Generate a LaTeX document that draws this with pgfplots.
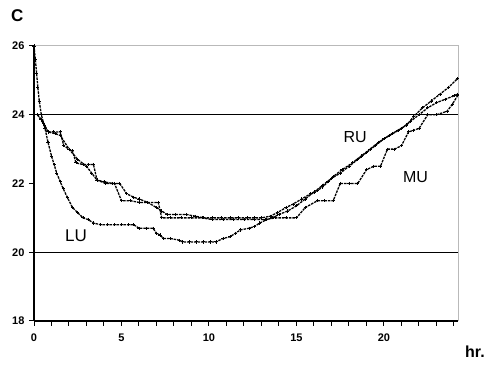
\documentclass[border=0pt]{standalone}
\usepackage{pgfplots}
\pgfplotsset{compat=1.18}
\usepackage{fontspec}
\setmainfont{Liberation Sans}
\begin{document}
\begin{tikzpicture}[x=1pt,y=1pt]
\path[use as bounding box] (0,0) rectangle (489,366);
\node[anchor=base west,inner sep=0pt,font=\bfseries\fontsize{17}{17}\selectfont] at (11,344) {C};
\node[anchor=base west,inner sep=0pt,font=\bfseries\fontsize{16}{16}\selectfont] at (465,8) {hr.};
\begin{axis}[
  at={(34pt,45pt)}, anchor=south west,
  scale only axis, width=424pt, height=275pt,
  xmin=0, xmax=24.23, ymin=18, ymax=26,
  axis x line*=bottom, axis y line*=left,
  axis line style={black, line width=1.2pt, -},
  xtick={0,5,10,15,20}, minor xtick={1,2,3,4,6,7,8,9,11,12,13,14,16,17,18,19,21,22,23,24},
  ytick={18,20,22,24,26},
  xtick align=outside, ytick align=outside,
  tick style={black, line width=1pt},
  major tick length=5pt, minor tick length=5pt,
  tick label style={font=\bfseries\fontsize{11}{11}\selectfont},
  /pgf/number format/assume math mode=true,
  xticklabel style={yshift=-4pt},
  yticklabel style={xshift=-1pt},
  clip=false,
]
% frame top/right
\addplot[gray!55, line width=1pt, forget plot] coordinates {(0,26) (24.23,26) (24.23,18)};
% reference lines
\addplot[black, line width=1pt, forget plot] coordinates {(0,24) (24.23,24)};
\addplot[black, line width=1pt, forget plot] coordinates {(0,20) (24.23,20)};
% LU
\addplot[black, line width=1.3pt, mark=+, mark size=1.6pt, mark options={solid, line width=0.9pt}, dash pattern=on 2.5pt off 1pt] coordinates {
(0,26) (0.08,25.6) (0.15,25.2) (0.22,24.8) (0.3,24.4) (0.42,24.0) (0.55,23.75) (0.63,23.6) (0.8,23.2) (1.0,22.8) (1.15,22.55) (1.3,22.3)
(1.5,22.05) (1.67,21.85) (1.9,21.6) (2.2,21.3) (2.5,21.15) (2.8,21.0) (3.1,20.95) (3.4,20.85) (3.8,20.8)
(4.2,20.8) (4.6,20.8) (5.0,20.8) (5.4,20.8) (5.7,20.8) (6.0,20.7) (6.4,20.7) (6.8,20.7) (7.0,20.55) (7.2,20.5) (7.4,20.4)
(7.8,20.4) (8.3,20.35) (8.5,20.3) (8.9,20.3) (9.3,20.3) (9.7,20.3) (10.1,20.3) (10.4,20.3) (10.8,20.4) (11.2,20.45)
(11.5,20.55) (11.8,20.65) (12.3,20.7) (12.6,20.75) (12.9,20.85) (13.3,20.95) (13.6,21.0) (14.0,21.1) (14.5,21.2) (15.0,21.35)
(15.5,21.55) (16.0,21.75) (16.5,21.95) (17.0,22.15) (17.5,22.3) (18.0,22.5) (18.5,22.7) (19.0,22.9) (19.5,23.1) (20.0,23.3)
(20.5,23.45) (21.0,23.6) (21.5,23.8) (22.0,24.0) (22.5,24.2) (23.0,24.35) (23.5,24.45) (24.0,24.55) (24.2,24.6)};
% RU
\addplot[black, line width=1.3pt, mark=+, mark size=1.6pt, mark options={solid, line width=0.9pt}, dash pattern=on 2.5pt off 1pt] coordinates {
(0.2,24.0) (0.5,23.8) (0.8,23.5) (1.1,23.5) (1.5,23.5) (1.7,23.1) (2.0,23.0) (2.2,22.95) (2.4,22.6) (2.8,22.55) (3.1,22.55) (3.4,22.55)
(3.6,22.1) (4.0,22.05) (4.5,22.0) (4.9,22.0) (5.3,21.7) (5.7,21.6) (6.0,21.55) (6.5,21.45) (7.0,21.3) (7.3,21.2) (7.6,21.1) (8.1,21.1) (8.7,21.1)
(9.2,21.05) (9.7,21.0) (10.2,21.0) (10.7,21.0) (11.2,21.0) (11.7,21.0) (12.2,21.0) (12.6,21.0) (13.0,21.0) (13.5,21.05) (13.9,21.15) (14.4,21.3) (14.8,21.4)
(15.3,21.55) (15.8,21.7) (16.2,21.8) (16.5,21.9) (16.8,22.05) (17.1,22.2) (17.6,22.4) (18.2,22.6) (18.7,22.8) (19.2,23.0) (19.7,23.2)
(20.3,23.4) (20.8,23.55) (21.3,23.7) (21.7,23.95) (22.2,24.2) (22.7,24.4) (23.2,24.6) (23.7,24.8) (24.2,25.05)};
% MU
\addplot[black, line width=1.3pt, mark=+, mark size=1.6pt, mark options={solid, line width=0.9pt}, dash pattern=on 2.5pt off 1pt] coordinates {
(0.2,24.0) (0.4,23.85) (0.6,23.7) (0.8,23.5) (1.2,23.45) (1.5,23.4) (2.0,23.0) (2.5,22.7) (3.0,22.5) (3.3,22.3) (3.6,22.1) (4.1,22.0) (4.6,22.0)
(5.0,21.5) (5.5,21.5) (6.0,21.45) (6.5,21.45) (7.1,21.45) (7.3,21.0) (7.8,21.0) (8.4,21.0) (9.0,21.0) (9.6,21.0) (10.2,20.95) (10.8,20.95) (11.4,20.95)
(12.0,20.95) (12.6,20.95) (13.2,20.95) (13.8,21.0) (14.4,21.0) (15.0,21.0) (15.5,21.3) (16.2,21.5) (16.6,21.5) (17.1,21.5) (17.5,22.0) (18.0,22.0)
(18.5,22.0) (19.0,22.4) (19.4,22.5) (19.8,22.5) (20.2,23.0) (20.6,23.0) (21.0,23.1) (21.4,23.5) (21.7,23.55) (22.0,23.6) (22.5,24.0) (23.0,24.0)
(23.6,24.1) (23.9,24.3) (24.2,24.55)};
\node[font=\fontsize{16}{16}\selectfont] at (axis cs:18.35,23.35) {RU};
\node[font=\fontsize{16}{16}\selectfont] at (axis cs:21.8,22.2) {MU};
\node[font=\fontsize{17}{17}\selectfont] at (axis cs:2.4,20.48) {LU};
\end{axis}
\end{tikzpicture}
\end{document}
